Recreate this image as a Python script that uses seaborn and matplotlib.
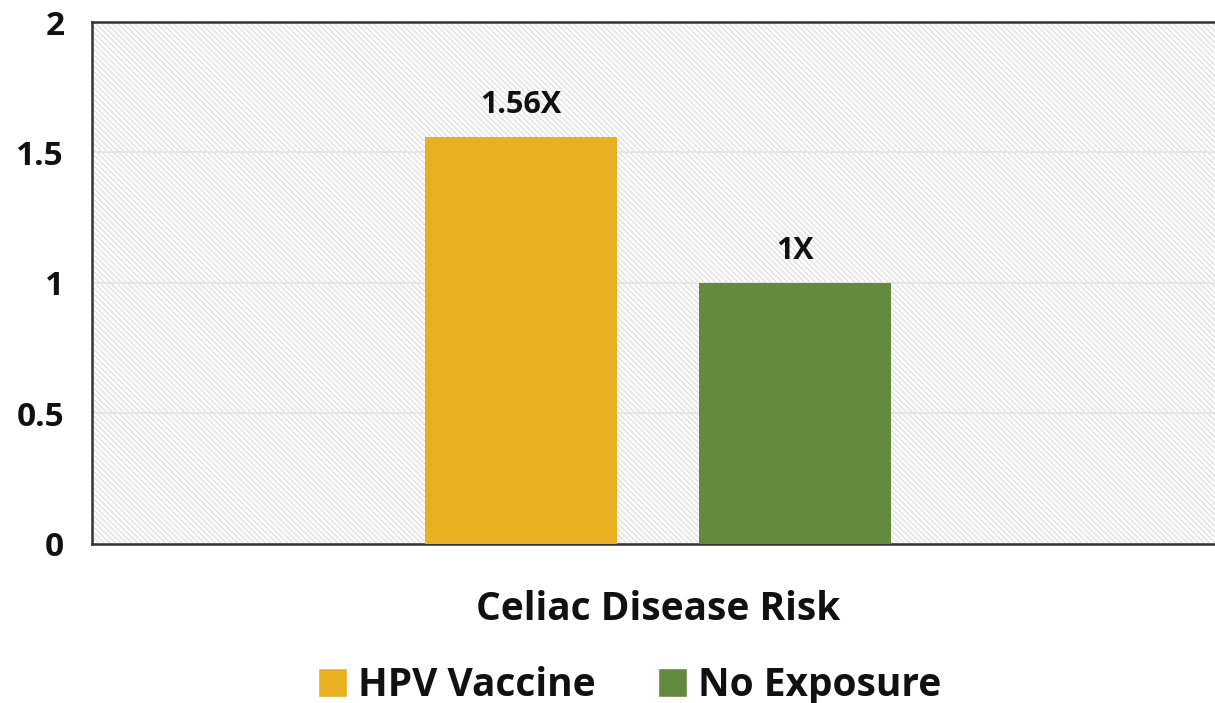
import matplotlib.pyplot as plt
import seaborn as sns
import pandas as pd
from matplotlib.patches import Patch

categories = ["Celiac Disease Risk", "Celiac Disease Risk"]
groups = ["HPV Vaccine", "No Exposure"]
risk = [1.56, 1.0]
bar_labels = ["1.56X", "1X"]
colors = ["#E9B121", "#648A3E"]
yticks = [0, 0.5, 1, 1.5, 2]

df = pd.DataFrame({"Category": categories, "Group": groups, "Risk": risk})

sns.set_style("white")
plt.rcParams["font.family"] = ["Open Sans", "DejaVu Sans"]
plt.rcParams["font.weight"] = "bold"
plt.rcParams["text.color"] = "#111111"
plt.rcParams["xtick.color"] = "#111111"
plt.rcParams["ytick.color"] = "#111111"
plt.rcParams["hatch.color"] = "#e0e0e0"
plt.rcParams["hatch.linewidth"] = 1.0

fig = plt.figure(figsize=(12.15, 7.03), dpi=100)
ax = fig.add_axes([0.0757, 0.2262, 0.93, 0.7425])

# hatched background
ax.add_patch(plt.Rectangle((0, 0), 1, 1, transform=ax.transAxes,
                           facecolor="white", edgecolor="#e0e0e0",
                           hatch="\\\\\\\\\\\\", linewidth=0, zorder=0))

sns.barplot(data=df, x="Category", y="Risk", hue="Group", palette=colors,
            width=0.486, gap=0.3, ax=ax, legend=False, zorder=3,
            saturation=1, linewidth=0)

for cont, lab in zip(ax.containers, bar_labels):
    ax.bar_label(cont, labels=[lab], padding=12, fontsize=22,
                 fontweight="bold", color="#111111")

ax.set_ylim(0, 2)
ax.set_xlim(-0.501, 0.499)
ax.set_yticks(yticks)
ax.set_yticklabels(["0", "0.5", "1", "1.5", "2"])
ax.grid(axis="y", color="#e3e3e3", linewidth=1.2, zorder=1)
ax.set_axisbelow(True)
ax.tick_params(axis="y", labelsize=24, pad=20, length=0)
ax.tick_params(axis="x", labelsize=28, pad=33, length=0)
for lab in ax.get_xticklabels() + ax.get_yticklabels():
    lab.set_fontweight("bold")
ax.set_xlabel("")
ax.set_ylabel("")

for side in ["left", "bottom", "top"]:
    ax.spines[side].set_color("#333333")
    ax.spines[side].set_linewidth(1.8)
ax.spines["right"].set_visible(False)

handles = [Patch(facecolor=c, label=g) for c, g in zip(colors, groups)]
fig.legend(handles=handles, loc="center", bbox_to_anchor=(0.518, 0.025),
           ncol=2, frameon=False, handlelength=0.75,
           handleheight=0.75, handletextpad=0.28, columnspacing=1.6,
           prop={"weight": "bold", "size": 28})

fig.savefig("out.png", dpi=100)
